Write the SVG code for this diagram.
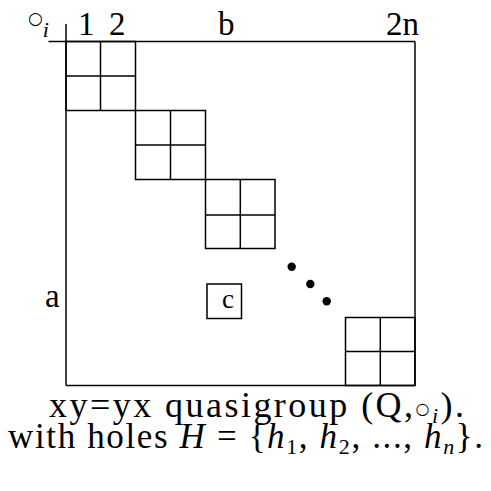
<svg xmlns="http://www.w3.org/2000/svg" width="491" height="491" viewBox="0 0 491 491">
<style>
.l{stroke:#000;stroke-width:1.5;fill:none}
.t{font-family:"Liberation Serif","DejaVu Serif",serif;font-size:31px;fill:#000}
.i{font-style:italic}
.s{font-size:22px}
.o{font-family:"DejaVu Sans",sans-serif;font-size:16px}
</style>
<rect width="491" height="491" fill="#fff"/>
<g id="frame">
<line class="l" x1="48.5" y1="41.5" x2="415" y2="41.5"/>
<line class="l" x1="66" y1="24" x2="66" y2="385.5"/>
<line class="l" x1="415" y1="41.5" x2="415" y2="385.5"/>
<line class="l" x1="66" y1="385.5" x2="415" y2="385.5"/>
</g>
<g id="block1">
<rect class="l" x="66" y="41.5" width="69.5" height="69"/>
<line class="l" x1="100.5" y1="41.5" x2="100.5" y2="110.5"/>
<line class="l" x1="66" y1="76" x2="135.5" y2="76"/>
</g>
<g id="block2">
<rect class="l" x="135.5" y="110.5" width="70" height="69"/>
<line class="l" x1="170.5" y1="110.5" x2="170.5" y2="179.5"/>
<line class="l" x1="135.5" y1="145" x2="205.5" y2="145"/>
</g>
<g id="block3">
<rect class="l" x="205.5" y="179.5" width="69.5" height="69"/>
<line class="l" x1="240.3" y1="179.5" x2="240.3" y2="248.5"/>
<line class="l" x1="205.5" y1="215" x2="275" y2="215"/>
</g>
<g id="block4">
<rect class="l" x="345.5" y="317.5" width="69.5" height="68"/>
<line class="l" x1="380.3" y1="317.5" x2="380.3" y2="385.5"/>
<line class="l" x1="345.5" y1="351.5" x2="415" y2="351.5"/>
</g>
<g id="cellc">
<rect class="l" x="207" y="284" width="34.5" height="34.5"/>
<text class="t" x="228" y="308" text-anchor="middle" style="font-size:27px">c</text>
</g>
<g id="dots">
<circle cx="291.7" cy="266.7" r="4.2"/>
<circle cx="310.3" cy="284" r="4.2"/>
<circle cx="326.7" cy="301.3" r="4.2"/>
</g>
<g id="labels">
<text class="t" x="28" y="24"><tspan class="o" style="font-size:17px">○</tspan><tspan class="i s" dy="13">i</tspan></text>
<text class="t" x="78" y="35" style="font-size:33px">1</text>
<text class="t" x="109" y="35" style="font-size:33px">2</text>
<text class="t" x="218" y="35" style="font-size:33px">b</text>
<text class="t" x="386" y="35" style="font-size:33px">2n</text>
<text class="t" x="45" y="307" style="font-size:33px">a</text>
</g>
<g id="caption">
<text class="t" x="49" y="417" style="font-size:36px" textLength="415" lengthAdjust="spacing">xy=yx quasigroup (Q,<tspan class="o" dy="-3">○</tspan><tspan class="i s" dy="9">i</tspan><tspan dy="-6">).</tspan></text>
<text class="t" x="8" y="448" style="font-size:35px" textLength="475" lengthAdjust="spacing">with holes <tspan class="i">H</tspan> = {<tspan class="i">h</tspan><tspan class="s" dy="6">1</tspan><tspan dy="-6">, </tspan><tspan class="i">h</tspan><tspan class="s" dy="6">2</tspan><tspan dy="-6">, ..., </tspan><tspan class="i">h</tspan><tspan class="s i" dy="6">n</tspan><tspan dy="-6">}.</tspan></text>
</g>
</svg>
